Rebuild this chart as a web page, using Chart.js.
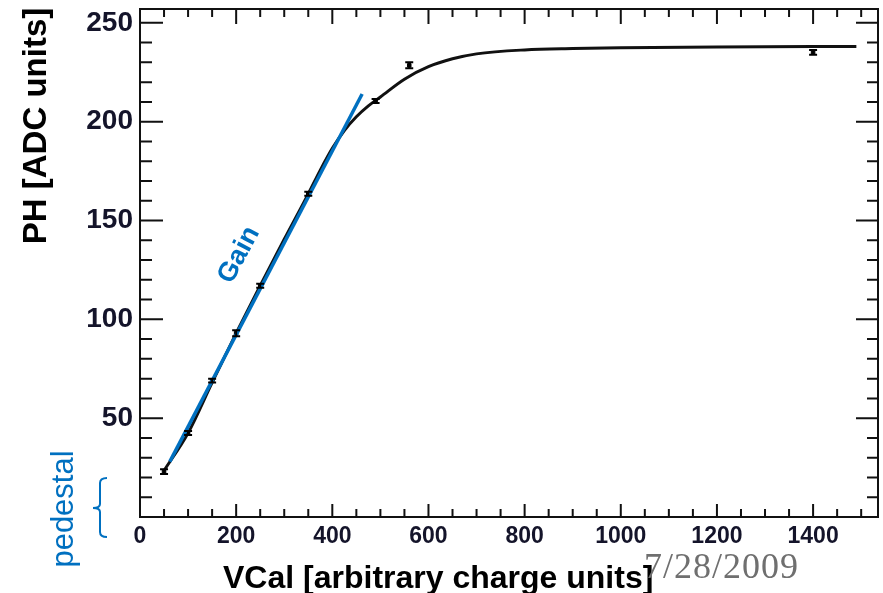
<!DOCTYPE html>
<html>
<head>
<meta charset="utf-8">
<title>PH vs VCal</title>
<script src="https://cdn.jsdelivr.net/npm/chart.js@4.4.0/dist/chart.umd.min.js"></script>
<style>
  body { margin: 0; background: #fff; }
</style>
</head>
<body>
<canvas id="phChart" width="883" height="593"></canvas>
<script>
// measured pulse height per injected VCal step
const vcal = [50, 100, 150, 200, 250, 350, 490, 560, 1400];
const pulseHeight = [23, 42.5, 69, 93, 117, 163.5, 210.5, 228.5, 235];
const pulseErr = [1.2, 1, 1, 1.5, 1, 1, 1, 1.5, 1.2];

// fitted response curve
const fitX = [50, 100, 150, 200, 250, 300, 350, 375, 400, 425, 450, 475, 500, 550, 600, 650, 700, 800, 900, 1000, 1200, 1400, 1490];
const fitY = [23.5, 42.5, 68, 93, 117, 140.5, 163.5, 175.5, 186.5, 195.5, 202.5, 208, 212.5, 221.5, 227.8, 231.8, 234.3, 236.3, 237, 237.4, 237.8, 238, 238];

// straight segment marking the gain (linear region)
const gainX = [62, 462];
const gainY = [28, 214];

const xTicks = [0, 200, 400, 600, 800, 1000, 1200, 1400];
const yTicks = [50, 100, 150, 200, 250];

const BLUE = '#0070c0';
const SANS = "'Liberation Sans', Arial, sans-serif";

const toXY = (xs, ys) => xs.map((x, i) => ({ x: x, y: ys[i] }));

// frame with ROOT-style inward ticks on all four sides
const framePlugin = {
  id: 'frame',
  afterDatasetsDraw(chart) {
    const { ctx, chartArea: a, scales: { x, y } } = chart;
    ctx.save();
    ctx.strokeStyle = '#111';
    ctx.lineWidth = 2;
    ctx.strokeRect(a.left, a.top, a.right - a.left, a.bottom - a.top);
    ctx.beginPath();
    for (let v = 0; v <= x.max; v += 50) {
      const px = x.getPixelForValue(v);
      const major = v % 200 === 0;
      ctx.moveTo(px, a.bottom); ctx.lineTo(px, a.bottom - (major ? 13 : 8));
      ctx.moveTo(px, a.top); ctx.lineTo(px, a.top + (major ? 15 : 8));
    }
    for (let v = 0; v <= y.max; v += 10) {
      const py = y.getPixelForValue(v);
      const major = v % 50 === 0;
      ctx.moveTo(a.left, py); ctx.lineTo(a.left + (major ? 23 : 12), py);
      ctx.moveTo(a.right, py); ctx.lineTo(a.right - (major ? 22 : 11), py);
    }
    ctx.stroke();
    ctx.restore();
  }
};

// vertical error bars with small caps
const errorBarPlugin = {
  id: 'errorBars',
  afterDatasetsDraw(chart) {
    const { ctx, scales: { x, y } } = chart;
    ctx.save();
    ctx.strokeStyle = '#000';
    ctx.lineWidth = 2;
    ctx.beginPath();
    vcal.forEach((v, i) => {
      const px = x.getPixelForValue(v);
      const lo = y.getPixelForValue(pulseHeight[i] - pulseErr[i]);
      const hi = y.getPixelForValue(pulseHeight[i] + pulseErr[i]);
      ctx.moveTo(px, lo); ctx.lineTo(px, hi);
      ctx.moveTo(px - 4, lo); ctx.lineTo(px + 4, lo);
      ctx.moveTo(px - 4, hi); ctx.lineTo(px + 4, hi);
    });
    ctx.stroke();
    ctx.restore();
  }
};

// axis titles, labels and the date stamp
const labelPlugin = {
  id: 'labels',
  afterDraw(chart) {
    const { ctx, chartArea: a } = chart;
    ctx.save();

    ctx.fillStyle = '#000';
    ctx.font = 'bold 33px ' + SANS;
    ctx.textBaseline = 'alphabetic';
    ctx.save();
    ctx.translate(46, 126);
    ctx.rotate(-Math.PI / 2);
    ctx.textAlign = 'center';
    ctx.fillText('PH [ADC units]', 0, 0);
    ctx.restore();

    ctx.font = 'bold 32px ' + SANS;
    ctx.textAlign = 'left';
    ctx.fillText('VCal [arbitrary charge units]', 223, 588);

    ctx.fillStyle = '#6f6f6f';
    ctx.font = '36px "Liberation Serif", "Times New Roman", serif';
    ctx.letterSpacing = '1px';
    ctx.fillText('7/28/2009', 644, 578);
    ctx.letterSpacing = '0px';

    // "Gain" along the linear segment
    ctx.fillStyle = BLUE;
    ctx.font = 'bold 27px ' + SANS;
    ctx.save();
    ctx.translate(239, 255);
    ctx.rotate(-62 * Math.PI / 180);
    ctx.textAlign = 'center';
    ctx.textBaseline = 'middle';
    ctx.fillText('Gain', 0, 0);
    ctx.restore();

    // "pedestal" with its brace
    ctx.font = '31px ' + SANS;
    ctx.save();
    ctx.translate(73, 509);
    ctx.rotate(-Math.PI / 2);
    ctx.textAlign = 'center';
    ctx.textBaseline = 'alphabetic';
    ctx.fillText('pedestal', 0, 0);
    ctx.restore();

    const bx = a.left - 40, top = a.bottom - 39, bot = a.bottom + 20, mid = a.bottom - 9;
    ctx.strokeStyle = BLUE;
    ctx.lineWidth = 2;
    ctx.beginPath();
    ctx.moveTo(bx + 7, top);
    ctx.quadraticCurveTo(bx, top, bx, top + 5);
    ctx.lineTo(bx, mid - 4);
    ctx.quadraticCurveTo(bx, mid, bx - 7, mid);
    ctx.quadraticCurveTo(bx, mid, bx, mid + 4);
    ctx.lineTo(bx, bot - 5);
    ctx.quadraticCurveTo(bx, bot, bx + 7, bot);
    ctx.stroke();

    ctx.restore();
  }
};

const chart = new Chart(document.getElementById('phChart'), {
  type: 'scatter',
  data: {
    datasets: [
      {
        label: 'Gain',
        data: toXY(gainX, gainY),
        showLine: true,
        borderColor: BLUE,
        borderWidth: 3.5,
        pointRadius: 0,
        order: 0
      },
      {
        label: 'PH',
        data: toXY(vcal, pulseHeight),
        showLine: false,
        pointStyle: 'rect',
        pointRadius: 2.5,
        backgroundColor: '#000',
        borderColor: '#000',
        borderWidth: 1,
        order: 1
      },
      {
        label: 'Fit',
        data: toXY(fitX, fitY),
        showLine: true,
        borderColor: '#111',
        borderWidth: 3,
        pointRadius: 0,
        cubicInterpolationMode: 'monotone',
        order: 2
      }
    ]
  },
  options: {
    responsive: false,
    animation: false,
    events: [],
    layout: { padding: { top: 9, right: 4, left: 0, bottom: 0 } },
    plugins: {
      legend: { display: false },
      tooltip: { enabled: false }
    },
    scales: {
      x: {
        type: 'linear',
        min: 0,
        max: 1535,
        grid: { display: false, drawTicks: false },
        border: { display: false },
        ticks: {
          color: '#14142a',
          padding: 6,
          maxRotation: 0,
          font: { family: SANS, size: 23, weight: 'bold' },
          callback: v => String(v)
        },
        afterBuildTicks: s => { s.ticks = xTicks.map(v => ({ value: v })); },
        afterFit: s => { s.height = 76; s.paddingLeft = 0; s.paddingRight = 0; }
      },
      y: {
        type: 'linear',
        min: 0,
        max: 257,
        grid: { display: false, drawTicks: false },
        border: { display: false },
        ticks: {
          color: '#14142a',
          padding: 7,
          font: { family: SANS, size: 28, weight: 'bold' },
          callback: v => String(v)
        },
        afterBuildTicks: s => { s.ticks = yTicks.map(v => ({ value: v })); },
        afterFit: s => { s.width = 140; s.paddingTop = 0; s.paddingBottom = 0; }
      }
    }
  },
  plugins: [framePlugin, errorBarPlugin, labelPlugin]
});
</script>
</body>
</html>
